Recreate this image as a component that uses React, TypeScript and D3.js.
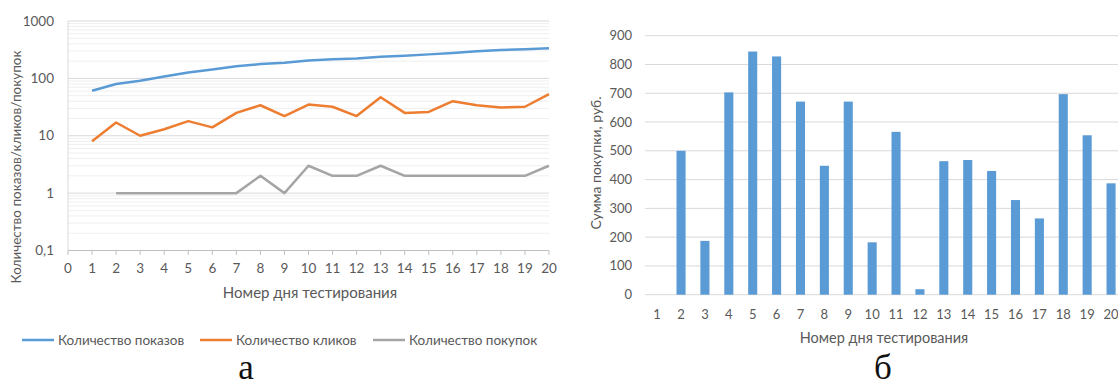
import React from "react";
import * as d3 from "d3";

const days = d3.range(1, 21);
const shows = [61, 80, 91, 108, 127, 143, 162, 178, 188, 204, 215, 221, 239, 249, 262, 277, 296, 313, 321, 334];
const clicks = [8, 17, 10, 13, 18, 14, 25, 34, 22, 35, 32, 22, 47, 25, 26, 40, 34, 31, 32, 53];
const purchases: (number | null)[] = [null, 1, 1, 1, 1, 1, 1, 2, 1, 3, 2, 2, 3, 2, 2, 2, 2, 2, 2, 3];
const amounts = [0, 500, 187, 703, 845, 828, 671, 448, 671, 182, 566, 19, 464, 468, 430, 329, 265, 697, 554, 387];
const logTicks = [0.1, 1, 10, 100, 1000];
const logTickLabels = ["0,1", "1", "10", "100", "1000"];
const xTicks = d3.range(0, 21);
const barTicks = d3.range(0, 1000, 100);
const legendNames = ["Количество показов", "Количество кликов", "Количество покупок"];
const colors = ["#5b9bd5", "#ed7d31", "#a5a5a5"];

const FONT = "Lato, 'Open Sans', sans-serif";
const TXT = "#595959";

export default function App() {
  // left chart
  const x = d3.scaleLinear().domain([0, 20]).range([68, 549]);
  const y = d3.scaleLog().domain([0.1, 1000]).range([250.5, 21]);
  const minor: number[] = [];
  [0.1, 1, 10, 100].forEach((d) => {
    for (let k = 2; k <= 9; k++) minor.push(d * k);
  });
  const line = d3
    .line<number | null>()
    .defined((d) => d != null)
    .x((_, i) => x(days[i]))
    .y((d) => y(d as number));
  const series = [shows, clicks, purchases];

  // right chart
  const xb = d3.scaleBand<number>().domain(days).range([645.2, 1123]).paddingInner(0.62).paddingOuter(0.31);
  const yb = d3.scaleLinear().domain([0, 900]).range([294.7, 35.7]);

  const legendX = [22, 200, 373];

  return (
    <svg width={1118} height={387} style={{ position: "absolute", left: 0, top: 0, background: "#fff" }} fontFamily={FONT}>
      <rect width={1118} height={387} fill="#fff" />
      {/* left chart grid */}
      {minor.map((m) => (
        <line key={"m" + m} x1={68} x2={549} y1={y(m)} y2={y(m)} stroke="#efefef" strokeWidth={1} />
      ))}
      {logTicks.slice(1).map((t) => (
        <line key={"g" + t} x1={68} x2={549} y1={y(t)} y2={y(t)} stroke="#d9d9d9" strokeWidth={1} />
      ))}
      <line x1={68} x2={68} y1={21} y2={250.5} stroke="#d9d9d9" />
      <line x1={68} x2={549} y1={250.5} y2={250.5} stroke="#bfbfbf" />
      {xTicks.map((t) => (
        <g key={"xt" + t}>
          <line x1={x(t)} x2={x(t)} y1={250.5} y2={255} stroke="#bfbfbf" />
          <text x={x(t)} y={273} textAnchor="middle" fontSize={13.5} fill={TXT}>
            {t}
          </text>
        </g>
      ))}
      {logTicks.map((t, i) => (
        <text key={"yt" + t} x={54} y={y(t)} dy="0.35em" textAnchor="end" fontSize={13.5} fill={TXT}>
          {logTickLabels[i]}
        </text>
      ))}
      {series.map((s, i) => (
        <path key={"s" + i} d={line(s) || ""} fill="none" stroke={colors[i]} strokeWidth={2.5} strokeLinejoin="round" />
      ))}
      <text x={310} y={298} textAnchor="middle" fontSize={15} fill={TXT}>
        Номер дня тестирования
      </text>
      <text transform="translate(21,167) rotate(-90)" textAnchor="middle" fontSize={13.5} fill={TXT}>
        Количество показов/кликов/покупок
      </text>
      {legendNames.map((n, i) => (
        <g key={"lg" + i}>
          <line x1={legendX[i]} x2={legendX[i] + 32} y1={340} y2={340} stroke={colors[i]} strokeWidth={2.5} />
          <text x={legendX[i] + 36} y={340} dy="0.35em" fontSize={13.5} fill={TXT}>
            {n}
          </text>
        </g>
      ))}
      <text x={246} y={379} textAnchor="middle" fontSize={35} fontFamily="'Liberation Serif', serif" fill="#111">
        а
      </text>

      {/* right chart */}
      {barTicks.map((t) => (
        <g key={"bt" + t}>
          <line x1={645} x2={1123} y1={yb(t)} y2={yb(t)} stroke="#d9d9d9" />
          <text x={632} y={yb(t)} dy="0.35em" textAnchor="end" fontSize={13} fill={TXT}>
            {t}
          </text>
        </g>
      ))}
      {amounts.map((v, i) => (
        <rect key={"b" + i} x={xb(days[i])} width={xb.bandwidth()} y={yb(v)} height={yb(0) - yb(v)} fill="#5b9bd5" />
      ))}
      {days.map((d) => (
        <text key={"bx" + d} x={(xb(d) as number) + xb.bandwidth() / 2} y={319} textAnchor="middle" fontSize={13} fill={TXT}>
          {d}
        </text>
      ))}
      <text x={884} y={343} textAnchor="middle" fontSize={14.5} fill={TXT}>
        Номер дня тестирования
      </text>
      <text transform="translate(601,163) rotate(-90)" textAnchor="middle" fontSize={14} fill={TXT}>
        Сумма покупки, руб.
      </text>
      <text x={883} y={379} textAnchor="middle" fontSize={35} fontFamily="'Liberation Serif', serif" fill="#111">
        б
      </text>
    </svg>
  );
}
